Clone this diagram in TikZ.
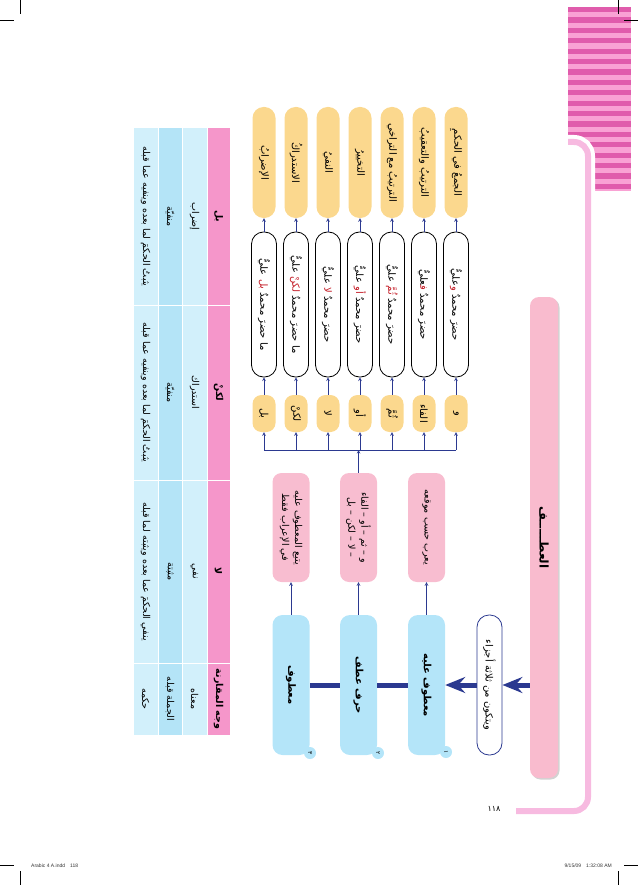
\documentclass[tikz,border=0pt]{standalone}
\usepackage{fontspec}
\setmainfont{Liberation Sans}
\newfontfamily\arfont[Script=Arabic]{DejaVu Sans}
\TeXXeTstate=1
\usepackage{tikz}
\usetikzlibrary{arrows.meta,shadows}
\definecolor{stripedark}{RGB}{224,92,172}
\definecolor{stripelight}{RGB}{249,162,212}
\definecolor{framepink}{RGB}{247,186,224}
\definecolor{titlepink}{RGB}{249,187,206}
\definecolor{notepink}{RGB}{248,189,208}
\definecolor{partblue}{RGB}{180,229,249}
\definecolor{amber}{RGB}{251,216,142}
\definecolor{navy}{RGB}{43,57,144}
\definecolor{wordred}{RGB}{196,28,38}
\definecolor{headpink}{RGB}{245,150,202}
\definecolor{celllight}{RGB}{210,240,251}
\definecolor{cellmid}{RGB}{180,228,247}
\newcommand{\artext}[1]{\beginR #1\endR}
\newcommand{\zwj}{^^^^200d}
\newcommand{\sample}[3]{\beginR #3\endR\ \textcolor{wordred}{\beginR #2\endR}\ \beginR #1\endR}

\begin{document}
\begin{tikzpicture}[x=1pt, y=-1pt, >=stealth,
    every node/.style={font=\arfont\fontsize{10}{12}\selectfont, inner sep=1pt},
    vert/.style={rotate=-90},
    meaning/.style={vert, fill=amber, rounded corners=11pt, minimum width=111pt, minimum height=23pt},
    example/.style={vert, draw=black, line width=0.8pt, fill=white, rounded corners=12pt, minimum width=145pt, minimum height=25pt},
    letter/.style={vert, fill=amber, rounded corners=9pt, minimum width=37pt, minimum height=23pt},
    note/.style={vert, fill=notepink, rounded corners=9pt, minimum width=109pt, minimum height=37pt, align=center, font=\arfont\fontsize{9.5}{13}\selectfont},
    part/.style={vert, fill=partblue, rounded corners=10pt, minimum width=140pt, minimum height=37pt, font=\arfont\bfseries\fontsize{10}{12}\selectfont},
    partsbox/.style={vert, draw=navy, line width=0.8pt, fill=white, rounded corners=12pt, minimum width=140pt, minimum height=25pt},
    titlebox/.style={vert, fill=titlepink, rounded corners=9pt, minimum width=481pt, minimum height=28pt, font=\arfont\bfseries\fontsize{12}{14}\selectfont},
    num/.style={vert, circle, fill=partblue, minimum size=12pt, inner sep=0pt, font=\arfont\fontsize{6}{7}\selectfont},
    cell/.style={vert, draw=white, line width=1pt, inner sep=0pt, font=\arfont\fontsize{9.5}{11}\selectfont},
    link/.style={navy, line width=0.6pt},
    partlink/.style={navy, line width=5pt},
    bigarrow/.style={navy, line width=5pt, -{Stealth[length=20pt,width=16pt,inset=7pt]}},
    footer/.style={font=\rmfamily\fontsize{5}{6}\selectfont, text=black!80},
    crop/.style={black, line width=0.4pt}]

  \useasboundingbox (0,0) rectangle (638,885);

  \fill[stripelight] (568,7) rectangle (631,191);
  \foreach \k in {0,...,17} \fill[stripedark] (568,7+\k*10.4) rectangle (631,12.2+\k*10.4);
  \fill[white] (564,142) rectangle (588,196);
  \draw[white, line width=14pt, rounded corners=14pt] (560,142) -- (588,142) -- (588,200);
  \draw[framepink, line width=6pt, rounded corners=14pt] (568,142) -- (588,142) -- (588,811) -- (516,811);
  \node[font=\arfont\fontsize{8}{9}\selectfont] (page) at (494,809) {١١٨};

  \node[titlebox, drop shadow={shadow xshift=1.5pt, shadow yshift=-1.5pt, fill=black!35}] (title) at (544,537.5) {\artext{العطـــــف}};
  \node[partsbox] (parts) at (489.5,685) {\artext{ويتكون من ثلاثة أجزاء}};

  \node[part] (part1) at (426.5,685) {\artext{معطوف عليه}};
  \node[part] (part2) at (358.5,685) {\artext{حرف عطف}};
  \node[part] (part3) at (291,685) {\artext{معطوف}};
  \node[num] (num1) at (446,752) {١};
  \node[num] (num2) at (378,753) {٢};
  \node[num] (num3) at (310,753) {٣};

  \node[note] (note1) at (426.5,527.5) {\artext{يعرب حسب موقعه}};
  \node[note] (note2) at (358.5,527.5) {\artext{و – ثم – أو – الفاء}\\\artext{– لا – لكن – بل}};
  \node[note] (note3) at (291,527.5) {\artext{يتبع المعطوف عليه}\\\artext{في الإعراب فقط}};

  \foreach \x/\m/\l [count=\i] in {456/الجمعُ في الحكمِ/و, 424/الترتيبُ والتعقيبُ/الفاء, 392/الترتيبُ مع التراخي/ثُمَّ, 360/التخييرُ/أو, 328/النفيُ/لا, 296/الاستدراكُ/لكنْ, 264/الإضرابُ/بل} {
    \node[meaning] (mean\i) at (\x,162.5) {\artext{\m}};
    \node[letter] (let\i) at (\x,413.5) {\artext{\l}};
  }

  \node[example] (ex1) at (456,304.5) {\beginR عليٌّ\endR\textcolor{wordred}{\beginR و\endR}\ \beginR حضرَ محمدٌ\endR};
  \node[example] (ex2) at (424,304.5) {\beginR\zwj عليٌّ\endR\textcolor{wordred}{\beginR ف\zwj\endR}\ \beginR حضرَ محمدٌ\endR};
  \node[example] (ex3) at (392,304.5) {\sample{حضرَ محمدٌ}{ثُمَّ}{عليٌّ}};
  \node[example] (ex4) at (360,304.5) {\sample{حضرَ محمدٌ}{أو}{عليٌّ}};
  \node[example] (ex5) at (328,304.5) {\sample{حضرَ محمدٌ}{لا}{عليٌّ}};
  \node[example] (ex6) at (296,304.5) {\sample{ما حضرَ محمدٌ}{لكنْ}{عليٌّ}};
  \node[example] (ex7) at (264,304.5) {\sample{ما حضرَ محمدٌ}{بل}{عليٌّ}};

  \coordinate (bus) at (358.5,450);

  \draw[bigarrow] (title.south |- parts) -- (parts);
  \draw[bigarrow] (parts) -- (part1);
  \draw[partlink] (part1) -- (part2);
  \draw[partlink] (part2) -- (part3);
  \foreach \i in {1,2,3} \draw[link,->] (part\i) -- (note\i);
  \draw[link,->] (note2) -- (bus);
  \draw[link] (let7 |- bus) -- (let1 |- bus);
  \foreach \i in {1,...,7} {
    \draw[link,->] (let\i |- bus) -- (let\i);
    \draw[link,->] (let\i) -- (ex\i);
    \draw[link,->] (ex\i) -- (mean\i);
  }

  \foreach \rowy/\rowh/\cA/\cB/\cC/\cD [count=\i] in {216.5/177pt/بل/إضراب/منفيّة/يثبتُ الحكمَ لما بعده وينفيه عما قبله, 392.5/175pt/لكنْ/استدراك/منفيّة/يثبتُ الحكمَ لما بعده وينفيه عما قبله, 571.5/183pt/لا/نفي/مثبتة/ينفي الحكمَ عما بعده ويثبته لما قبله, 699/72pt/وجه المقارنة/معناه/الجملة قبله/حكمه} {
    \node[cell, fill=headpink, minimum width=\rowh, minimum height=23pt, font=\arfont\bfseries\fontsize{9.5}{11}\selectfont] (head\i) at (218.5,\rowy) {\artext{\cA}};
    \node[cell, fill=celllight, minimum width=\rowh, minimum height=25pt] (sense\i) at (194.5,\rowy) {\artext{\cB}};
    \node[cell, fill=cellmid, minimum width=\rowh, minimum height=24pt] (clause\i) at (170,\rowy) {\artext{\cC}};
    \node[cell, fill=celllight, minimum width=\rowh, minimum height=25pt] (rule\i) at (145.5,\rowy) {\artext{\cD}};
  }

  \draw[crop] (0,20) -- (14,20);
  \draw[crop] (20,0) -- (20,14);
  \draw[crop] (624,20) -- (638,20);
  \draw[crop] (618,0) -- (618,14);
  \draw[crop] (0,865) -- (14,865);
  \draw[crop] (20,871) -- (20,885);
  \draw[crop] (624,865) -- (638,865);
  \draw[crop] (618,871) -- (618,885);
  \node[footer, anchor=west] (file) at (30,866) {Arabic 4 A.indd\quad 118};
  \node[footer, anchor=east] (stamp) at (613,866) {9/15/09\quad 1:32:08 AM};
\end{tikzpicture}
\end{document}
